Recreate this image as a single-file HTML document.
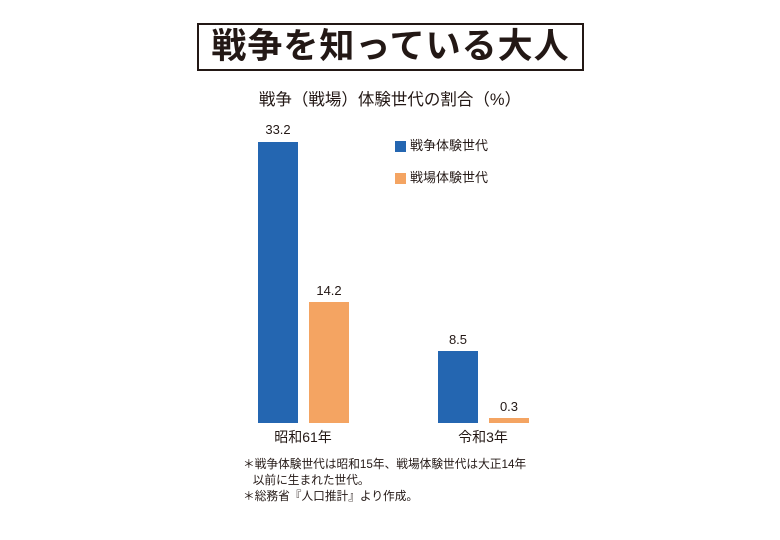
<!DOCTYPE html>
<html><head><meta charset="utf-8"><style>
body{margin:0;width:780px;height:540px;background:#fff;position:relative;overflow:hidden;font-family:"Liberation Sans","Noto Sans CJK JP",sans-serif;color:#231815}
div{position:absolute}
.t{white-space:nowrap}
</style></head><body>
<div style="left:197px;top:23px;width:383px;height:44px;border:2px solid #231815"></div>
<div class="t" style="left:197px;top:24px;width:387px;text-align:center;font-size:35px;font-weight:bold;line-height:46px;letter-spacing:1px">戦争を知っている大人</div>
<div class="t" style="left:200px;top:89px;width:380px;text-align:center;font-size:16.5px;line-height:22px">戦争（戦場）体験世代の割合（%）</div>
<div style="left:258px;top:142px;width:40px;height:281px;background:#2466b1"></div>
<div style="left:309px;top:302px;width:40px;height:121px;background:#f4a462"></div>
<div style="left:438px;top:351px;width:40px;height:72px;background:#2466b1"></div>
<div style="left:489px;top:418px;width:40px;height:5px;background:#f4a462"></div>
<div class="t" style="left:248px;top:122px;width:60px;text-align:center;font-size:13px">33.2</div>
<div class="t" style="left:299px;top:283px;width:60px;text-align:center;font-size:13px">14.2</div>
<div class="t" style="left:428px;top:332px;width:60px;text-align:center;font-size:13px">8.5</div>
<div class="t" style="left:479px;top:399px;width:60px;text-align:center;font-size:13px">0.3</div>
<div style="left:395px;top:141px;width:11px;height:11px;background:#2466b1"></div>
<div class="t" style="left:410px;top:137px;font-size:13px;line-height:18px">戦争体験世代</div>
<div style="left:395px;top:173px;width:11px;height:11px;background:#f4a462"></div>
<div class="t" style="left:410px;top:169px;font-size:13px;line-height:18px">戦場体験世代</div>
<div class="t" style="left:253px;top:428px;width:100px;text-align:center;font-size:14px;line-height:18px">昭和61年</div>
<div class="t" style="left:433px;top:428px;width:100px;text-align:center;font-size:14px;line-height:18px">令和3年</div>
<div class="t" style="left:243px;top:457px;font-size:11.7px;line-height:16px">＊戦争体験世代は昭和15年、戦場体験世代は大正14年<br>&nbsp;&nbsp;&nbsp;以前に生まれた世代。<br>＊総務省『人口推計』より作成。</div>
</body></html>
